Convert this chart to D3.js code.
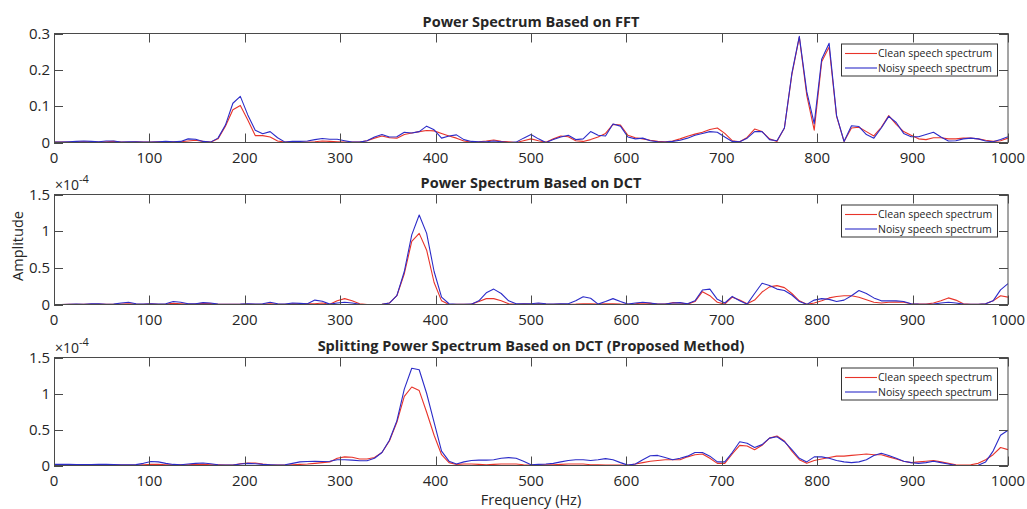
<!DOCTYPE html>
<html><head><meta charset="utf-8">
<script src="https://cdn.jsdelivr.net/npm/d3@7/dist/d3.min.js"></script>
<style>
html,body{margin:0;padding:0;background:#fff;}
text{font-family:"Open Sans","Noto Sans",sans-serif;fill:#262626;}
</style></head>
<body><svg id="c" width="1027" height="509"></svg>
<script>
// ---- data (FFT bin grid: 129 bins spanning 0..1000 Hz) ----
const nBins = 129;
const freqs = d3.range(nBins).map(i => i * 1000 / 128);
const xTicks = [0,100,200,300,400,500,600,700,800,900,1000];
const seriesNames = ["Clean speech spectrum", "Noisy speech spectrum"];
const titles = ["Power Spectrum Based on FFT", "Power Spectrum Based on DCT", "Splitting Power Spectrum Based on DCT (Proposed Method)"];
const yTicksFFT = [0, 0.1, 0.2, 0.3];
const yTicksDCT = [0, 0.5, 1, 1.5]; // ×10^-4

const fftClean = [0.001,0.001,0.001,0.002,0.002,0.002,0.001,0.002,0.003,0.001,0.001,0.002,0.001,0.001,0.002,0.002,0.002,0.002,0.004,0.006,0.003,0.001,0.010,0.045,0.090,0.102,0.062,0.019,0.019,0.015,0.004,0.001,0.002,0.001,0.001,0.002,0.004,0.003,0.002,0.001,0.001,0.001,0.005,0.012,0.018,0.013,0.012,0.022,0.026,0.030,0.033,0.032,0.025,0.018,0.012,0.004,0.001,0.002,0.004,0.007,0.003,0.002,0.000,0.005,0.010,0.005,0.001,0.010,0.018,0.016,0.005,0.003,0.008,0.015,0.025,0.050,0.048,0.020,0.013,0.010,0.006,0.003,0.002,0.004,0.010,0.017,0.023,0.028,0.036,0.040,0.025,0.005,0.002,0.014,0.037,0.030,0.010,0.003,0.040,0.187,0.290,0.130,0.034,0.222,0.263,0.072,0.003,0.040,0.042,0.030,0.018,0.042,0.074,0.050,0.030,0.020,0.010,0.008,0.013,0.013,0.010,0.010,0.012,0.012,0.010,0.006,0.003,0.005,0.012];
const fftNoisy = [0.001,0.001,0.002,0.003,0.004,0.003,0.002,0.004,0.004,0.001,0.002,0.002,0.001,0.001,0.002,0.003,0.002,0.003,0.010,0.009,0.003,0.001,0.012,0.048,0.108,0.127,0.076,0.034,0.024,0.030,0.013,0.001,0.003,0.003,0.004,0.008,0.011,0.009,0.009,0.005,0.001,0.001,0.005,0.015,0.022,0.015,0.016,0.028,0.026,0.030,0.045,0.035,0.012,0.018,0.021,0.008,0.003,0.002,0.002,0.004,0.002,0.000,0.001,0.012,0.022,0.010,0.000,0.008,0.015,0.020,0.008,0.010,0.030,0.020,0.018,0.051,0.045,0.015,0.010,0.012,0.005,0.002,0.001,0.003,0.006,0.012,0.020,0.025,0.030,0.028,0.015,0.003,0.002,0.012,0.030,0.030,0.008,0.005,0.040,0.190,0.292,0.140,0.052,0.229,0.273,0.074,0.003,0.046,0.044,0.022,0.012,0.040,0.072,0.055,0.025,0.016,0.016,0.022,0.028,0.015,0.004,0.005,0.010,0.012,0.010,0.004,0.002,0.008,0.016];

// DCT values in units of 1e-4
const dctClean = [0,0,0.002,0.003,0.002,0.005,0.005,0.002,0.002,0.005,0.01,0.005,0.003,0.008,0.003,0.005,0.015,0.01,0.005,0.008,0.015,0.012,0.003,0.002,0.002,0.003,0.005,0.003,0.005,0.01,0.005,0.003,0.01,0.008,0.01,0.01,0.02,0.003,0.05,0.08,0.05,0.01,0,0,0.002,0.02,0.12,0.42,0.86,0.97,0.74,0.30,0.05,0,0.002,0.002,0.005,0.04,0.08,0.08,0.05,0.01,0.003,0.01,0.005,0.01,0.005,0.003,0.005,0.004,0.005,0.01,0.01,0.005,0.01,0.01,0.005,0.003,0.01,0.02,0.015,0.005,0.005,0.025,0.02,0.005,0.04,0.175,0.12,0.03,0.005,0.10,0.06,0.01,0.06,0.17,0.24,0.257,0.23,0.15,0.05,0.002,0.02,0.05,0.09,0.11,0.12,0.12,0.10,0.065,0.03,0.02,0.03,0.035,0.03,0.01,0.005,0.005,0.02,0.05,0.09,0.06,0.01,0.003,0.003,0.01,0.05,0.12,0.10];
const dctNoisy = [0,0,0.003,0.005,0.003,0.01,0.01,0.003,0.005,0.02,0.03,0.01,0.005,0.01,0.005,0.01,0.04,0.03,0.01,0.01,0.025,0.02,0.005,0.003,0.003,0.005,0.01,0.005,0.01,0.03,0.01,0.005,0.02,0.015,0.01,0.06,0.045,0.005,0.02,0.03,0.02,0.003,0,0,0.002,0.02,0.12,0.45,0.95,1.22,0.97,0.45,0.10,0.01,0.002,0.002,0.005,0.05,0.16,0.21,0.15,0.05,0.01,0.01,0.01,0.02,0.01,0.005,0.01,0.01,0.05,0.105,0.085,0.005,0.04,0.08,0.04,0.005,0.02,0.03,0.02,0.005,0.005,0.02,0.025,0.01,0.05,0.197,0.21,0.07,0.02,0.11,0.05,0.005,0.15,0.29,0.26,0.21,0.19,0.13,0.04,0.002,0.06,0.08,0.07,0.04,0.06,0.12,0.19,0.15,0.09,0.05,0.05,0.05,0.04,0.01,0.005,0.003,0.005,0.02,0.03,0.02,0.005,0.003,0.003,0.01,0.05,0.20,0.285];

const splitClean = [0.01,0.01,0.01,0.008,0.008,0.008,0.01,0.01,0.008,0.005,0.005,0.005,0.01,0.015,0.015,0.01,0.01,0.01,0.01,0.015,0.015,0.01,0.01,0.005,0.005,0.025,0.035,0.035,0.02,0.01,0.005,0.005,0.01,0.015,0.02,0.03,0.04,0.05,0.10,0.12,0.115,0.09,0.09,0.11,0.18,0.34,0.60,0.96,1.09,1.04,0.74,0.42,0.15,0.04,0.015,0.02,0.02,0.015,0.01,0.015,0.02,0.02,0.02,0.01,0.005,0.01,0.01,0.01,0.015,0.02,0.02,0.02,0.01,0.01,0.005,0.005,0.005,0.003,0.02,0.04,0.06,0.07,0.08,0.08,0.08,0.12,0.15,0.16,0.10,0.03,0.03,0.16,0.28,0.27,0.22,0.28,0.38,0.41,0.34,0.20,0.08,0.03,0.07,0.09,0.11,0.13,0.13,0.14,0.15,0.16,0.15,0.15,0.12,0.09,0.06,0.04,0.05,0.06,0.07,0.05,0.03,0.01,0.005,0.01,0.03,0.08,0.15,0.25,0.22];
const splitNoisy = [0.015,0.015,0.015,0.012,0.012,0.012,0.015,0.015,0.012,0.01,0.01,0.012,0.03,0.055,0.05,0.03,0.015,0.01,0.02,0.03,0.035,0.025,0.01,0.005,0.005,0.02,0.03,0.025,0.015,0.01,0.005,0.01,0.03,0.05,0.055,0.06,0.055,0.06,0.08,0.08,0.075,0.065,0.065,0.10,0.18,0.35,0.62,1.06,1.35,1.33,1.00,0.60,0.20,0.06,0.02,0.05,0.07,0.075,0.075,0.08,0.10,0.11,0.10,0.06,0.01,0.015,0.02,0.03,0.05,0.07,0.08,0.08,0.07,0.08,0.095,0.08,0.04,0.005,0.02,0.08,0.135,0.14,0.11,0.08,0.10,0.13,0.18,0.18,0.13,0.05,0.05,0.18,0.33,0.31,0.25,0.29,0.38,0.40,0.33,0.22,0.10,0.05,0.12,0.12,0.10,0.07,0.05,0.04,0.05,0.08,0.14,0.17,0.14,0.10,0.06,0.04,0.03,0.04,0.06,0.04,0.02,0.002,0,0,0.002,0.05,0.20,0.42,0.49];

// ---- layout ----
const svg = d3.select("#c");
const X0 = 54, X1 = 1008;
const colors = ["#e8342a", "#2c2cc8"];
const x = d3.scaleLinear().domain([0, 1000]).range([X0, X1]);
const tickLen = 9;
const tickFont = 15;

const panels = [
  {top: 33.5, bottom: 142.5, yMax: 0.3, yTicks: yTicksFFT, fmt: d => d === 0 ? "0" : d3.format(".1f")(d), title: titles[0], data: [fftClean, fftNoisy], exp: false},
  {top: 194.5, bottom: 304.5, yMax: 1.5, yTicks: yTicksDCT, fmt: d => String(d), title: titles[1], data: [dctClean, dctNoisy], exp: true},
  {top: 357.5, bottom: 465.5, yMax: 1.5, yTicks: yTicksDCT, fmt: d => String(d), title: titles[2], data: [splitClean, splitNoisy], exp: true}
];

panels.forEach(p => {
  const y = d3.scaleLinear().domain([0, p.yMax]).range([p.bottom, p.top]);
  const g = svg.append("g");
  const clipId = "clip" + Math.round(p.top);
  svg.append("clipPath").attr("id", clipId).append("rect")
    .attr("x", X0).attr("y", p.top - 1).attr("width", X1 - X0).attr("height", p.bottom - p.top + 1);

  // lines
  const line = d3.line().x((d, i) => x(freqs[i])).y(d => y(d));
  p.data.forEach((arr, k) => {
    g.append("path").attr("d", line(arr)).attr("fill", "none")
      .attr("stroke", colors[k]).attr("stroke-width", 1.1)
      .attr("stroke-linejoin", "round").attr("clip-path", `url(#${clipId})`);
  });

  // ticks inside (bottom/top, left/right)
  const axStroke = "#4a4a4a";
  xTicks.forEach(t => {
    const xx = Math.round(x(t)) + 0.5;
    g.append("line").attr("x1", xx).attr("x2", xx).attr("y1", p.bottom).attr("y2", p.bottom - tickLen).attr("stroke", axStroke);
    g.append("line").attr("x1", xx).attr("x2", xx).attr("y1", p.top).attr("y2", p.top + tickLen).attr("stroke", axStroke);
    g.append("text").attr("x", x(t)).attr("y", p.bottom + 20.5).attr("text-anchor", "middle")
      .attr("font-size", tickFont).text(t);
  });
  p.yTicks.forEach(t => {
    const yy = Math.round(y(t)) + 0.5;
    g.append("line").attr("x1", X0).attr("x2", X0 + tickLen).attr("y1", yy).attr("y2", yy).attr("stroke", axStroke);
    g.append("line").attr("x1", X1).attr("x2", X1 - tickLen).attr("y1", yy).attr("y2", yy).attr("stroke", axStroke);
    g.append("text").attr("x", X0 - 4).attr("y", y(t) + 5).attr("text-anchor", "end")
      .attr("font-size", tickFont).text(p.fmt(t));
  });
  // box
  g.append("rect").attr("x", X0 + 0.5).attr("y", p.top).attr("width", X1 - X0 - 0.5).attr("height", p.bottom - p.top)
    .attr("fill", "none").attr("stroke", axStroke).attr("stroke-width", 1);

  // title
  g.append("text").attr("x", (X0 + X1) / 2).attr("y", p.top - 6.5).attr("text-anchor", "middle")
    .attr("font-size", 14.5).attr("font-weight", "bold").attr("fill", "#111").text(p.title);

  // exponent
  if (p.exp) {
    const t = g.append("text").attr("x", X0 + 1).attr("y", p.top - 5).attr("font-size", 14).attr("fill", "#333");
    t.append("tspan").text("\u00d710");
    t.append("tspan").attr("dy", -7).attr("font-size", 11).text("-4");
  }

  // legend
  const lx = 841, ly = p.top + 10.5, lw = 156, lh = 32;
  const lg = g.append("g");
  lg.append("rect").attr("x", lx + 0.5).attr("y", ly).attr("width", lw).attr("height", lh)
    .attr("fill", "#fff").attr("stroke", "#333").attr("stroke-width", 1);
  seriesNames.forEach((nm, k) => {
    const ry = ly + 9.5 + k * 14.5;
    lg.append("line").attr("x1", lx + 4).attr("x2", lx + 36).attr("y1", ry).attr("y2", ry)
      .attr("stroke", colors[k]).attr("stroke-width", 1.1);
    lg.append("text").attr("x", lx + 37).attr("y", ry + 3.8).attr("font-size", 10.5).text(nm);
  });
});

// axis labels
svg.append("text").attr("transform", "translate(23,246) rotate(-90)").attr("text-anchor", "middle")
  .attr("font-size", 14.5).text("Amplitude");
svg.append("text").attr("x", (X0 + X1) / 2).attr("y", 505).attr("text-anchor", "middle")
  .attr("font-size", 14.5).text("Frequency (Hz)");
</script>
</body></html>
